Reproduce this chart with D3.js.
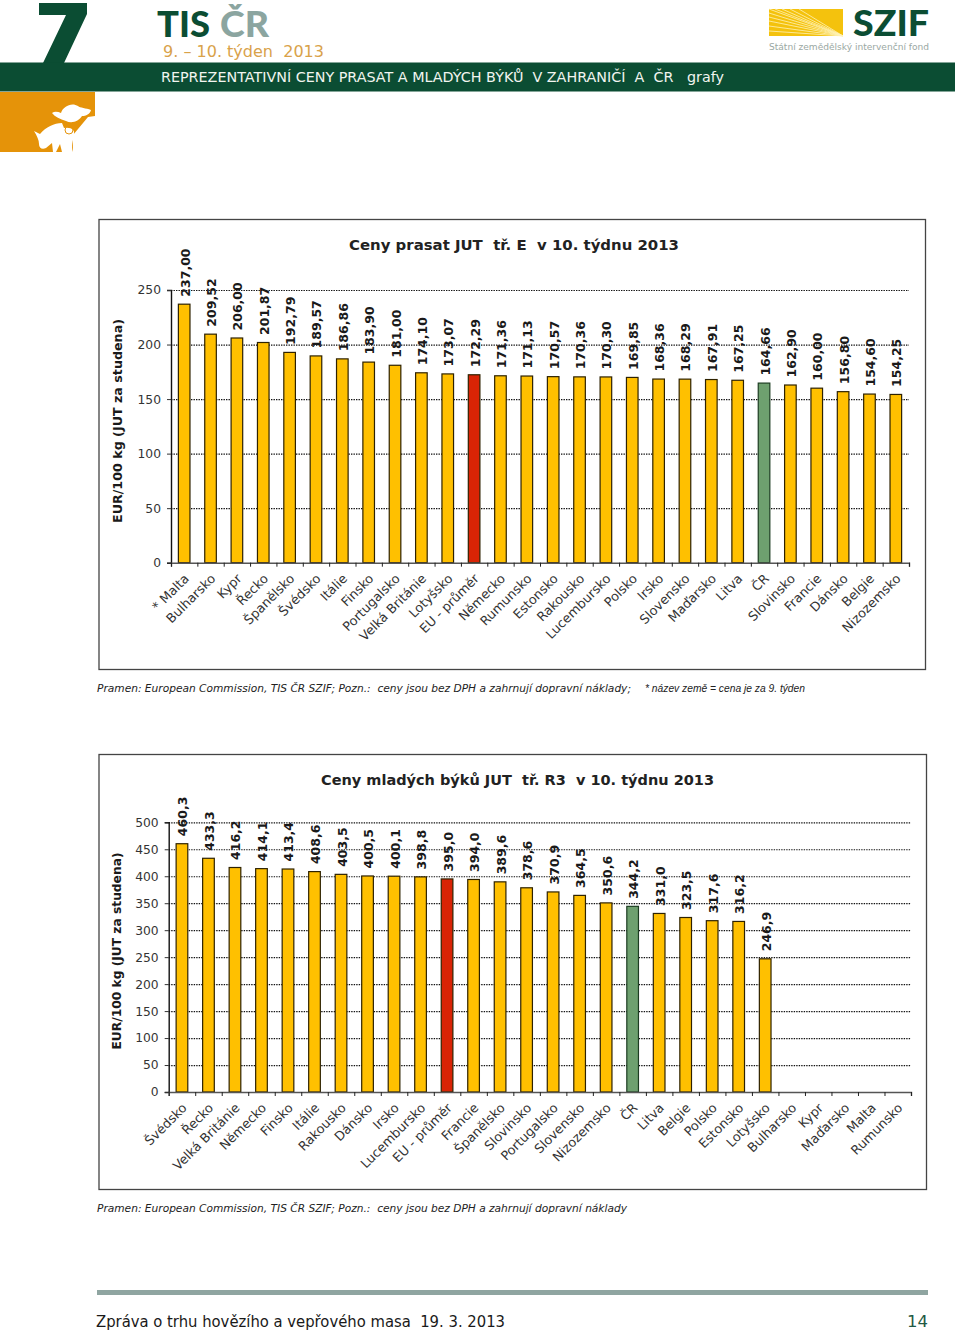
<!DOCTYPE html>
<html><head><meta charset="utf-8">
<script src="https://cdn.jsdelivr.net/npm/d3@7"></script>
<style>html,body{margin:0;padding:0;background:#fff}svg{display:block}text{white-space:pre}</style>
</head><body><svg id="c" width="960" height="1331"></svg>
<script>
const pigCategories = ["* Malta","Bulharsko","Kypr","Řecko","Španělsko","Švédsko","Itálie","Finsko","Portugalsko","Velká Británie","Lotyšsko","EU - průměr","Německo","Rumunsko","Estonsko","Rakousko","Lucembursko","Polsko","Irsko","Slovensko","Maďarsko","Litva","ČR","Slovinsko","Francie","Dánsko","Belgie","Nizozemsko"];
const pigValues = [237.00,209.52,206.00,201.87,192.79,189.57,186.86,183.90,181.00,174.10,173.07,172.29,171.36,171.13,170.57,170.36,170.30,169.85,168.36,168.29,167.91,167.25,164.66,162.90,160.00,156.80,154.60,154.25];
const pigTicks = [0,50,100,150,200,250];
const bullCategories = ["Švédsko","Řecko","Velká Británie","Německo","Finsko","Itálie","Rakousko","Dánsko","Irsko","Lucembursko","EU - průměr","Francie","Španělsko","Slovinsko","Portugalsko","Slovensko","Nizozemsko","ČR","Litva","Belgie","Polsko","Estonsko","Lotyšsko","Bulharsko","Kypr","Maďarsko","Malta","Rumunsko"];
const bullValues = [460.3,433.3,416.2,414.1,413.4,408.6,403.5,400.5,400.1,398.8,395.0,394.0,389.6,378.6,370.9,364.5,350.6,344.2,331.0,323.5,317.6,316.2,246.9,null,null,null,null,null];
const bullTicks = [0,50,100,150,200,250,300,350,400,450,500];

const svg = d3.select("#c");
const GREEN="#0b4d33", SANS="'DejaVu Sans',Verdana,sans-serif";

function txt(s,x,y,o={}){
  const t=svg.append("text").attr("x",x).attr("y",y).text(s)
    .attr("font-family",o.font||SANS).attr("font-size",o.size||12).attr("fill",o.fill||"#222");
  if(o.weight)t.attr("font-weight",o.weight);
  if(o.style)t.attr("font-style",o.style);
  if(o.len)t.attr("textLength",o.len).attr("lengthAdjust","spacingAndGlyphs");
  if(o.anchor)t.attr("text-anchor",o.anchor);
  return t;
}

/* header */
svg.append("polygon").attr("points","39,3 87,3 87,14 64,63 43,63 66,15 39,15").attr("fill",GREEN);
svg.append("rect").attr("x",0).attr("y",62.5).attr("width",955).attr("height",29).attr("fill",GREEN);
svg.append("polygon").attr("points","0,92 95,92 95,116 88,117 73,135 73,152 0,152").attr("fill","#e59309");
txt("TIS",157,37,{font:"Lato",size:36,weight:900,fill:GREEN,len:53});
txt("ČR",220,37,{font:"Lato",size:36,weight:900,fill:"#8ba5a0",len:49});
txt("9. – 10. týden  2013",163,57,{size:16,fill:"#d9a24a",len:161});
txt("REPREZENTATIVNÍ CENY PRASAT A MLADÝCH BÝKŮ  V ZAHRANIČÍ  A  ČR   grafy",161,82,{size:14,fill:"#f2f5f0",len:563});
/* animal icon */
svg.append("path").attr("fill","#fff").attr("d","M52,113 C55,111 58,112 61,113 C63,106 72,102 78,106 C80,108 86,108 91,110 C90,114 86,116 82,116 C79,121 72,124 66,121 C60,119 55,117 52,113Z");
svg.append("path").attr("fill","#fff").attr("d","M34,131 L40,134 C46,127 54,123 62,123 L64,128 C72,127 75,130 74,135 C73,141 71,146 73,152 L62,152 L60,144 L56,152 L53,152 L52,143 L46,148 C42,150 39,148 39,144 C39,140 37,136 34,131Z");
svg.append("circle").attr("cx",69).attr("cy",130).attr("r",4).attr("fill","none").attr("stroke","#e59309").attr("stroke-width",1);
/* SZIF logo */
svg.append("rect").attr("x",769).attr("y",9).attr("width",74).attr("height",27).attr("fill","#f4c20d");
[[9,36],[13,36],[17,36],[21,36],[26,36],[31,36]].forEach(d=>{
  svg.append("line").attr("x1",769).attr("y1",d[0]).attr("x2",843).attr("y2",d[1]).attr("stroke","#fff3b8").attr("stroke-width",.8);
});
[775,782,790,799].forEach(x=>{
  svg.append("line").attr("x1",x).attr("y1",9).attr("x2",843).attr("y2",36).attr("stroke","#fff3b8").attr("stroke-width",.8);
});
txt("SZIF",853,36,{font:"Lato",size:36,weight:900,fill:GREEN,len:76});
txt("Státní zemědělský intervenční fond",769,50,{size:9.5,fill:"#9aa8a3",len:160});

function chart(o){
  const g=svg.append("g");
  g.append("rect").attr("x",o.box[0]).attr("y",o.box[1]).attr("width",o.box[2]-o.box[0]).attr("height",o.box[3]-o.box[1])
    .attr("fill","#fff").attr("stroke","#444").attr("stroke-width",1.3);
  const x=d3.scaleBand().domain(o.cats).range([o.x0,o.x1]).paddingInner(.56).paddingOuter(.28);
  const xi=d3.scaleLinear().domain([0,o.cats.length]).range([o.x0,o.x1]);
  const y=d3.scaleLinear().domain([0,o.max]).range([o.y0,o.yTop]);
  // grid
  g.append("g").selectAll("line").data(o.ticks.filter(t=>t>0)).join("line")
    .attr("x1",o.x0).attr("x2",o.x1).attr("y1",d=>y(d)+.5).attr("y2",d=>y(d)+.5)
    .attr("stroke","#111").attr("stroke-width",1.2).attr("stroke-dasharray","1.4 1.1");
  // bars
  const data=o.cats.map((c,i)=>({c,v:o.vals[i]}));
  g.append("g").selectAll("rect").data(data.filter(d=>d.v!=null)).join("rect")
    .attr("x",d=>x(d.c)).attr("width",x.bandwidth()).attr("y",d=>y(d.v)).attr("height",d=>o.y0-y(d.v))
    .attr("fill",d=>d.c==="EU - průměr"?"#d92405":d.c==="ČR"?"#6ea06f":"#ffc000")
    .attr("stroke",d=>d.c==="ČR"?"#1d3d22":"#2e2200").attr("stroke-width",1.2);
  // axes
  const ay=g.append("g").attr("transform",`translate(${o.x0},0)`)
    .call(d3.axisLeft(y).tickValues(o.ticks).tickSize(4).tickPadding(6).tickFormat(d3.format("d")));
  ay.selectAll("text").attr("font-family",SANS).attr("font-size",12.3).attr("fill","#333");
  ay.select(".domain").attr("stroke","#111").attr("stroke-width",1.4);
  ay.selectAll("line").attr("stroke","#333");
  const ax=g.append("g").attr("transform",`translate(0,${o.y0})`)
    .call(d3.axisBottom(xi).tickValues(d3.range(o.cats.length+1)).tickSize(4).tickFormat(""));
  ax.select(".domain").attr("stroke","#555").attr("stroke-width",1.4);
  ax.selectAll("line").attr("stroke","#222");
  // category labels
  g.append("g").selectAll("text").data(o.cats).join("text")
    .attr("transform",d=>`translate(${x(d)+x.bandwidth()/2+2.5},${o.y0+13.5}) rotate(-45)`)
    .attr("text-anchor","end").attr("dy",".35em").text(d=>d)
    .attr("font-family",SANS).attr("font-size",12.8).attr("fill","#333");
  // value labels
  const fmt=d3.format(o.fmt);
  g.append("g").selectAll("text").data(data.filter(d=>d.v!=null)).join("text")
    .attr("transform",d=>`translate(${x(d.c)+x.bandwidth()/2+5.5},${y(d.v)-7.5}) rotate(-90)`)
    .text(d=>fmt(d.v).replace(".",","))
    .attr("font-family",SANS).attr("font-size",12.5).attr("font-weight",700).attr("fill","#1a1a1a");
  // title and axis title
  txt(o.title,o.tx,o.ty,{size:14.5,weight:700,fill:"#222",len:o.tlen});
  txt("EUR/100 kg (JUT za studena)",0,0,{size:12.3,weight:700,fill:"#1a1a1a",len:o.ylen,anchor:"middle"})
    .attr("transform",`translate(${o.yl},${o.ylc}) rotate(-90)`).attr("x",0).attr("y",0);
}

chart({box:[99,219.5,925.5,669.5],x0:171,x1:909,y0:562.7,yTop:290,max:250,ticks:pigTicks,cats:pigCategories,vals:pigValues,fmt:".2f",
  title:"Ceny prasat JUT  tř. E  v 10. týdnu 2013",tx:349,ty:250,tlen:330,yl:122,ylc:421,ylen:204});
chart({box:[99,754.5,926.5,1189.5],x0:168.7,x1:911,y0:1092,yTop:822.3,max:500,ticks:bullTicks,cats:bullCategories,vals:bullValues,fmt:".1f",
  title:"Ceny mladých býků JUT  tř. R3  v 10. týdnu 2013",tx:321,ty:785,tlen:393,yl:121,ylc:951,ylen:197});

txt("Pramen: European Commission, TIS ČR SZIF; Pozn.:  ceny jsou bez DPH a zahrnují dopravní náklady;",97,692,{size:11,style:"italic",fill:"#222",len:534});
txt("* název země = cena je za 9. týden",645,692,{font:"'Liberation Sans',Arial",size:10,style:"italic",fill:"#222",len:160});
txt("Pramen: European Commission, TIS ČR SZIF; Pozn.:  ceny jsou bez DPH a zahrnují dopravní náklady",97,1212,{size:11,style:"italic",fill:"#222",len:530});
svg.append("rect").attr("x",97).attr("y",1290).attr("width",831).attr("height",5).attr("fill","#8fa5a1");
txt("Zpráva o trhu hovězího a vepřového masa  19. 3. 2013",96,1327,{size:15.5,fill:"#1a1a1a",len:409});
txt("14",907,1327,{size:16,fill:"#1f5a45",len:21});
</script></body></html>
